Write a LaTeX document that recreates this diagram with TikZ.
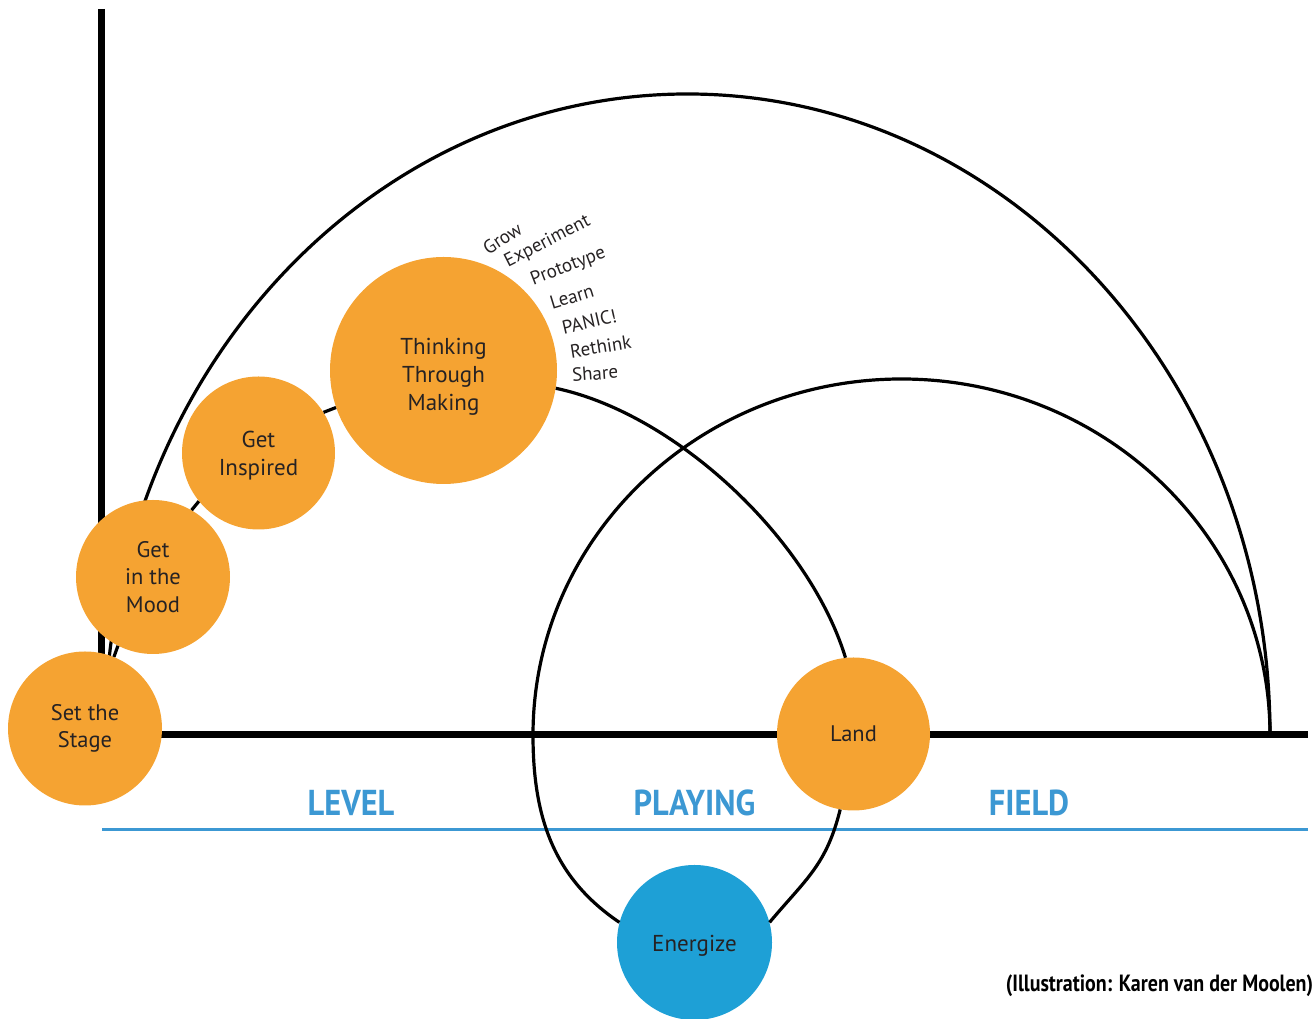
\documentclass[tikz,border=0pt]{standalone}
\usepackage{fontspec}
\setmainfont{PT Sans}
\newfontfamily\narrowfont[FakeStretch=0.85]{PT Sans}
\newfontfamily\fieldfont[FakeStretch=0.9]{PT Sans}

\definecolor{stageorange}{RGB}{245,163,50}
\definecolor{energyblue}{RGB}{30,160,214}
\definecolor{fieldblue}{RGB}{60,152,211}
\definecolor{inkgray}{RGB}{38,34,35}

\tikzset{
	stepcircle/.style={circle, fill=stageorange, minimum size=154pt, inner sep=0pt, align=center, text=inkgray, font=\fontsize{22.5}{27.5}\selectfont},
	makingcircle/.style={stepcircle, minimum size=227pt},
	energycircle/.style={stepcircle, fill=energyblue, minimum size=155pt},
	circletext/.style={align=center, text=inkgray, font=\fontsize{23}{28}\selectfont},
	axisline/.style={line width=7pt},
	arcline/.style={line width=3.2pt},
	fieldline/.style={line width=3pt, draw=fieldblue},
	fieldword/.style={anchor=base, text=fieldblue, font=\fieldfont\bfseries\fontsize{36}{36}\selectfont},
	makeword/.style={inner sep=0pt, text=inkgray, font=\fontsize{19}{19}\selectfont}
}

\begin{document}
\begin{tikzpicture}[x=1pt, y=1pt]
	
	\useasboundingbox (0,0) rectangle (1315,1019);
	
	\draw [axisline] (101,1010) -- (101,284) -- (1308,284);
	
	\draw [fieldline] (102,189) -- (1308,189);
	
	\draw [arcline] (105,284) arc [start angle=180, end angle=0, x radius=582.5, y radius=641];
	
	\coordinate (midL) at (533,284);
	
	\draw [arcline] (midL) arc [start angle=180, end angle=0, x radius=368.5, y radius=356];
	
	
	\node [stepcircle] (stage) at (85,290.5) {Set the\\Stage};
	
	\node [stepcircle] (mood) at (153,442) {Get\\in the\\Mood};
	
	\node [stepcircle, minimum size=153pt, yshift=0pt] (inspired) at (258.5,566) {};
	
	\node [circletext, yshift=-3pt] at (inspired) {Get\\Inspired};
	
	\node [makingcircle] (making) at (443.5,648.5) {};
	
	\node [circletext, yshift=-6pt] at (making) {Thinking\\Through\\Making};
	
	\node [stepcircle, minimum size=153pt] (land) at (853.5,285) {Land};
	
	\node [energycircle] (energize) at (694.5,76.5) {};
	
	\node [circletext, yshift=-3pt] at (energize) {Energize};
	
	
	\draw [arcline] (stage.68) -- (mood.243);
	
	\draw [arcline] (mood.60) -- (inspired.219);
	
	\draw [arcline] (inspired.32) -- (making.199);
	
	\draw [arcline] (making.-9) to [out=-12, in=107, looseness=0.8] (land.96);
	
	\draw [arcline] (land.260) to [out=-104, in=50, looseness=1.1] (energize.15);
	
	\draw [arcline] (energize.165) to [out=146, in=-90] (midL);
	
	
	\node [makeword, rotate=33] at (502.3,780.7) {Grow};
	
	\node [makeword, rotate=27] at (547.5,777.3) {Experiment};
	
	\node [makeword, rotate=21] at (568.3,752.3) {Prototype};
	
	\node [makeword, rotate=17] at (571.7,722.3) {Learn};
	
	\node [makeword, rotate=13] at (589.3,697.3) {PANIC!};
	
	\node [makeword, rotate=9] at (600.7,672.3) {Rethink};
	
	\node [makeword, rotate=4] at (595,645.7) {Share};
	
	
	\node [fieldword] at (351,203) {LEVEL};
	
	\node [fieldword] at (694.5,203) {PLAYING};
	
	\node [fieldword] at (1029,203) {FIELD};
	
	\node [anchor=base, text=black, font=\narrowfont\bfseries\fontsize{23.5}{23.5}\selectfont] at (1159.5,27) {(Illustration: Karen van der Moolen)};
	
\end{tikzpicture}
\end{document}
